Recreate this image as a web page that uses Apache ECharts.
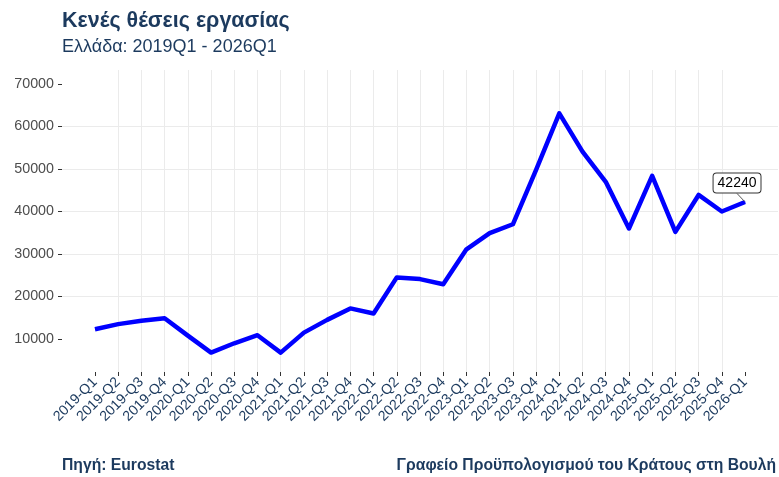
<!DOCTYPE html>
<html>
<head>
<meta charset="utf-8">
<title>Κενές θέσεις εργασίας</title>
<script src="https://cdn.jsdelivr.net/npm/echarts@6/dist/echarts.min.js"></script>
<style>
	html, body { margin: 0; padding: 0; background: #ffffff; }
	#chart { width: 779px; height: 477px; }
</style>
</head>
<body>
<div id="chart"></div>
<script>
var quarters = ['2019-Q1', '2019-Q2', '2019-Q3', '2019-Q4',
	'2020-Q1', '2020-Q2', '2020-Q3', '2020-Q4',
	'2021-Q1', '2021-Q2', '2021-Q3', '2021-Q4',
	'2022-Q1', '2022-Q2', '2022-Q3', '2022-Q4',
	'2023-Q1', '2023-Q2', '2023-Q3', '2023-Q4',
	'2024-Q1', '2024-Q2', '2024-Q3', '2024-Q4',
	'2025-Q1', '2025-Q2', '2025-Q3', '2025-Q4',
	'2026-Q1'];
var vacancies = [12300, 13500, 14300, 14900,
	10800, 6800, 9000, 10900,
	6800, 11500, 14500, 17200,
	16000, 24500, 24100, 22900,
	31100, 34900, 37000, 49800,
	63100, 54100, 47000, 36000,
	48400, 35200, 43900, 40000,
	42240];
var yTicks = [10000, 20000, 30000, 40000, 50000, 60000, 70000];

var navy = '#1c3a5e';

function buildSeriesData() {
	var data = [];
	for (var i = 0; i < vacancies.length; i++) {
		var item = { value: [i, vacancies[i]], symbol: 'none' };
		// τελευταία τιμή με ετικέτα
		if (i == vacancies.length - 1) {
			item.symbol = 'circle';
			item.symbolSize = 1;
			item.label = {
				show: true,
				position: 'top',
				distance: 0,
				formatter: String(vacancies[i]),
				color: '#000000',
				fontSize: 14,
				fontFamily: 'Liberation Sans',
				backgroundColor: '#ffffff',
				borderColor: '#333333',
				borderWidth: 1,
				borderRadius: 3,
				padding: [3, 4, 2, 4]
			};
			item.labelLine = {
				show: true,
				lineStyle: { color: '#555555', width: 1 }
			};
		}
		data.push(item);
	}
	return data;
}

var tickIdx = quarters.map(function (q, i) { return i; });

var chart = echarts.init(document.getElementById('chart'));
chart.setOption({
	animation: false,
	title: [{
		text: 'Κενές θέσεις εργασίας',
		left: 62,
		top: 10,
		padding: 0,
		textStyle: { color: navy, fontSize: 21.5, fontWeight: 'bold', fontFamily: 'Liberation Sans' }
	}, {
		text: 'Ελλάδα: 2019Q1 - 2026Q1',
		left: 62,
		top: 38.5,
		padding: 0,
		textStyle: { color: navy, fontSize: 18, fontWeight: 'normal', fontFamily: 'Liberation Sans' }
	}, {
		text: 'Πηγή: Eurostat',
		left: 62,
		top: 458,
		padding: 0,
		textStyle: { color: navy, fontSize: 15.7, fontWeight: 'bold', fontFamily: 'Liberation Sans' }
	}, {
		text: 'Γραφείο Προϋπολογισμού του Κράτους στη Βουλή',
		right: 3,
		top: 458,
		padding: 0,
		textStyle: { color: navy, fontSize: 15.7, fontWeight: 'bold', fontFamily: 'Liberation Sans' }
	}],
	grid: {
		left: 62,
		right: 1,
		top: 70,
		bottom: 105
	},
	xAxis: {
		type: 'value',
		min: -1.42,
		max: 29.42,
		axisLine: { show: false, onZero: false },
		axisTick: {
			show: true,
			length: 4,
			customValues: tickIdx,
			lineStyle: { color: '#333333' }
		},
		axisLabel: {
			customValues: tickIdx,
			rotate: 45,
			margin: 8,
			fontSize: 14.2,
			fontFamily: 'Liberation Sans',
			color: navy,
			formatter: function (v) { return quarters[Math.round(v)] || ''; }
		},
		splitLine: {
			show: true,
			showMinLine: false,
			showMaxLine: false,
			lineStyle: { color: '#ebebeb', width: 1 }
		}
	},
	yAxis: {
		type: 'value',
		min: 2235,
		max: 73300,
		axisLine: { show: false, onZero: false },
		axisTick: {
			show: true,
			length: 4,
			customValues: yTicks,
			lineStyle: { color: '#333333' }
		},
		axisLabel: {
			customValues: yTicks,
			margin: 8,
			fontSize: 14.3,
			fontFamily: 'Liberation Sans',
			color: '#4d4d4d',
			formatter: function (v) { return String(v); }
		},
		splitLine: {
			show: true,
			showMinLine: false,
			showMaxLine: false,
			lineStyle: { color: '#ebebeb', width: 1 }
		}
	},
	series: [{
		name: 'Κενές θέσεις',
		type: 'line',
		data: buildSeriesData(),
		showSymbol: true,
		labelLayout: { dx: -8, dy: -9 },
		lineStyle: { color: '#0000ff', width: 4.5, join: 'round' },
		itemStyle: { color: '#0000ff' }
	}]
});
</script>
</body>
</html>
